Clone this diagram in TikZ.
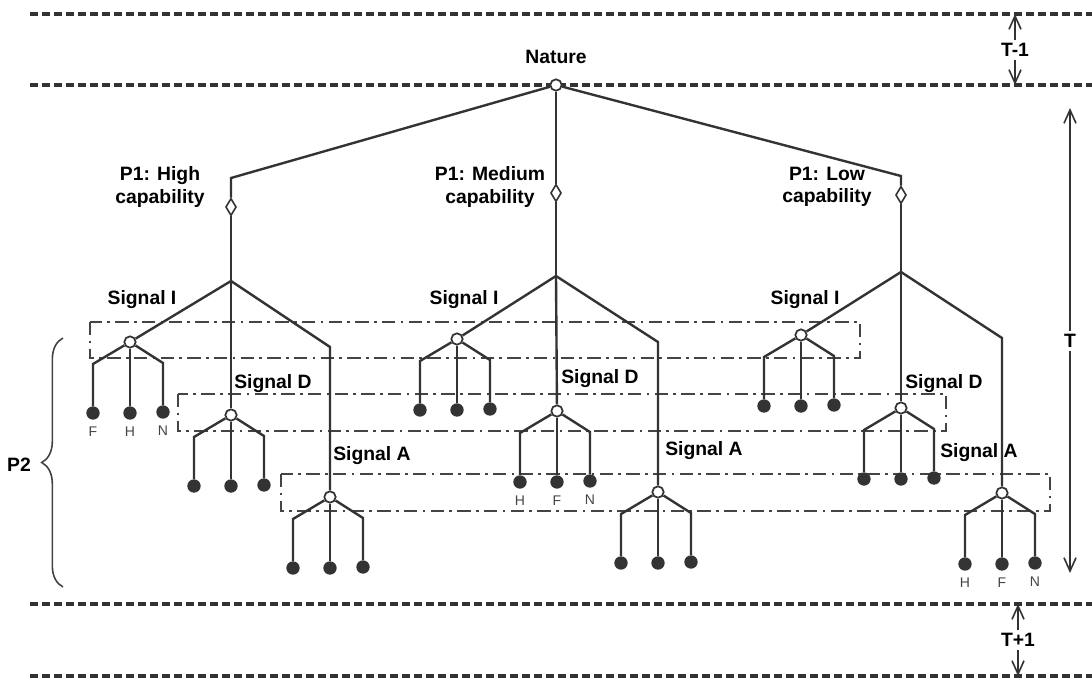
\documentclass[tikz,border=0pt]{standalone}
\usepackage{fontspec}
\setmainfont{Liberation Sans}
\usepackage{xcolor}
\usetikzlibrary{arrows.meta,positioning,calc,backgrounds,shapes.geometric,decorations.pathreplacing}
\definecolor{lineGray}{HTML}{333333}
\definecolor{boxGray}{HTML}{444444}
\tikzset{
  chance/.style={circle, draw=lineGray, fill=white, line width=1.3pt, minimum size=8.5pt, inner sep=0pt},
  leaf/.style={circle, fill=lineGray, minimum size=10pt, inner sep=0pt},
  choice/.style={diamond, draw=lineGray, fill=white, line width=1.2pt, minimum width=8pt, minimum height=13pt, inner sep=0pt},
  edge/.style={lineGray, line width=1.8pt},
  infoset/.style={boxGray, line width=1.6pt, dash pattern=on 10pt off 4pt on 2pt off 4pt},
  period/.style={lineGray, line width=2.6pt, dash pattern=on 6pt off 3pt},
  lbl/.style={font=\fontsize{14.5}{17}\selectfont\bfseries, align=center},
  act/.style={font=\fontsize{10.5}{12}\selectfont, text=boxGray, inner sep=1pt},
}

\begin{document}
\begin{tikzpicture}[x=0.75pt,y=-0.75pt,>={Straight Barb[length=10pt,width=9pt]}]
\useasboundingbox (0,0) rectangle (1092,678);
% time periods
\foreach \y in {14,85,604,676}{
  \draw[period] (30,\y) -- (1092,\y);
}
\coordinate (tmA) at (1015,14);  \coordinate (tmB) at (1015,85);
\coordinate (tA) at (1070,108);  \coordinate (tB) at (1070,573);
\coordinate (tpA) at (1018,604); \coordinate (tpB) at (1018,676);
\node[lbl, fill=white, inner sep=2pt] (tm) at (1015,50) {T-1};
\node[lbl, fill=white, inner sep=2pt] (t) at (1070,341) {T};
\node[lbl, fill=white, inner sep=2pt] (tp) at (1018,640) {T+1};
\draw[edge, line width=1.2pt, ->] (tm) -- (tmA);
\draw[edge, line width=1.2pt, ->] (tm) -- (tmB);
\draw[edge, line width=1.2pt, ->] (t) -- (tA);
\draw[edge, line width=1.2pt, ->] (t) -- (tB);
\draw[edge, line width=1.2pt, ->] (tp) -- (tpA);
\draw[edge, line width=1.2pt, ->] (tp) -- (tpB);

% nature move
\node[chance] (nat) at (556,85) {};
\node[lbl] (natlbl) at (556,57) {Nature};

% P1 types
\foreach \t/\x/\k/\d/\s in {h/231/178/207/281, m/556/120/193/276, l/901/176/195/272}{
  \coordinate (\t K) at (\x,\k);
  \coordinate (\t S) at (\x,\s);
  \node[choice] (\t P) at (\x,\d) {};
  \draw[edge] (nat) -- (\t K) -- (\t P);
  \draw[edge] (\t P) -- (\t S);
}
\node[lbl] (hlbl) at (160,187) {P1: High\\capability};
\node[lbl] (mlbl) at (490,187) {P1: Medium\\capability};
\node[lbl] (llbl) at (827,187) {P1: Low\\capability};

% P2 information sets
\begin{scope}[on background layer]
\draw[infoset] (90,322) rectangle (860,358);
\draw[infoset] (178,394) rectangle (946,431);
\draw[infoset] (281,474) rectangle (1050,511);
\end{scope}

% P2 moves after each signal
\foreach \n/\x/\y in {hI/130/342, hD/231/415, hA/330/497, mI/457/339, mD/557/411, mA/658/492, lI/801/335, lD/901/408, lA/1002/493}{
  \node[chance] (\n) at (\x,\y) {};
  \node[leaf] (\n-1) at (\x-37,\y+71) {};
  \node[leaf] (\n-2) at (\x,\y+71) {};
  \node[leaf] (\n-3) at (\x+33,\y+70) {};
  \draw[edge] (\n) -- ++(-37,22) -- (\n-1);
  \draw[edge] (\n) -- (\n-2);
  \draw[edge] (\n) -- ++(33,21) -- (\n-3);
}

% signals
\foreach \t in {h,m,l}{
  \draw[edge] (\t S) -- (\t I);
  \draw[edge] (\t S) -- (\t D);
  \draw[edge] (\t S) -- ($(\t A |- \t S)+(0,66)$) -- (\t A);
}
\node[lbl] (hIl) at (142,300) {Signal I};
\node[lbl] (hDl) at (273,384) {Signal D};
\node[lbl] (hAl) at (372,456) {Signal A};
\node[lbl] (mIl) at (464,300) {Signal I};
\node[lbl] (mDl) at (600,379) {Signal D};
\node[lbl] (mAl) at (704,451) {Signal A};
\node[lbl] (lIl) at (805,300) {Signal I};
\node[lbl] (lDl) at (944,384) {Signal D};
\node[lbl] (lAl) at (979,453) {Signal A};

% actions
\node[act, below=4pt of hI-1] (f1) {F};
\node[act, below=4pt of hI-2] (h1) {H};
\node[act, below=4pt of hI-3] (n1) {N};
\node[act, below=4pt of mD-1] (h2) {H};
\node[act, below=4pt of mD-2] (f2) {F};
\node[act, below=4pt of mD-3] (n2) {N};
\node[act, below=4pt of lA-1] (h3) {H};
\node[act, below=4pt of lA-2] (f3) {F};
\node[act, below=4pt of lA-3] (n3) {N};

% P2 brace
\draw[boxGray, line width=1.2pt, decorate, decoration={brace, amplitude=16pt}] (63,587) -- (63,338);
\node[lbl] (p2) at (19,465) {P2};
\end{tikzpicture}
\end{document}
